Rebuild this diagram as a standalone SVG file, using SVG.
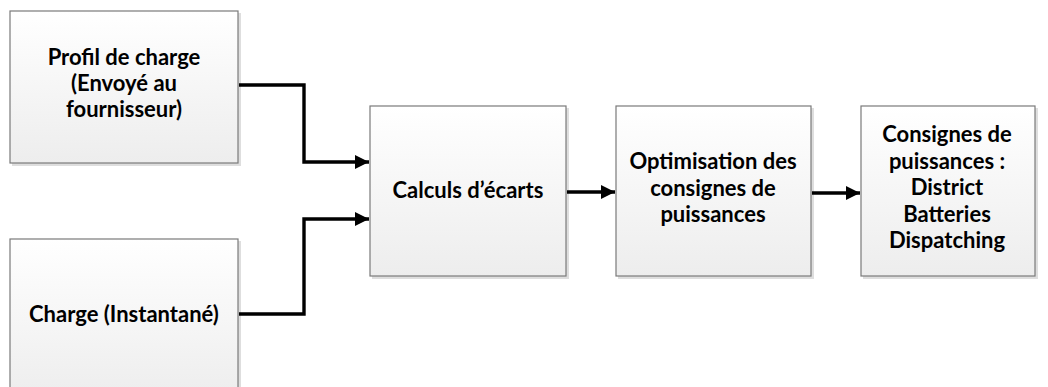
<svg xmlns="http://www.w3.org/2000/svg" width="1048" height="387" viewBox="0 0 1048 387">
<defs>
<linearGradient id="g" x1="0" y1="0" x2="0" y2="1">
<stop offset="0" stop-color="#ffffff"/>
<stop offset="1" stop-color="#ededed"/>
</linearGradient>
<marker id="ah" viewBox="0 0 10 10" refX="10" refY="5" markerWidth="4.2" markerHeight="4.2" markerUnits="strokeWidth" orient="auto">
<path d="M0,0 L10,5 L0,10 z" fill="#000"/>
</marker>
</defs>
<style>
.box{fill:url(#g);stroke:#7a7a7a;stroke-width:1.2}
.sh{fill:#c8c8c8;opacity:0.6}
.t{font-family:Lato,"Open Sans","Liberation Sans",sans-serif;font-weight:bold;font-size:22px;fill:#000;text-anchor:middle}
.c{fill:none;stroke:#000;stroke-width:3.4;stroke-linejoin:miter}
</style>
<g id="n1">
<rect class="sh" x="12" y="13" width="229" height="153"/>
<rect class="box" x="10" y="11" width="228" height="152"/>
<text class="t" x="124" y="65">Profil de charge</text>
<text class="t" x="124" y="91">(Envoyé au</text>
<text class="t" x="124" y="117">fournisseur)</text>
</g>
<g id="n2">
<rect class="sh" x="12" y="241" width="229" height="160"/>
<rect class="box" x="10" y="239" width="228" height="160"/>
<text class="t" x="124" y="322">Charge (Instantané)</text>
</g>
<g id="n3">
<rect class="sh" x="372" y="108" width="197" height="171"/>
<rect class="box" x="370" y="106" width="196" height="170"/>
<text class="t" x="468" y="198">Calculs d’écarts</text>
</g>
<g id="n4">
<rect class="sh" x="618" y="108" width="196" height="171"/>
<rect class="box" x="616" y="106" width="195" height="170"/>
<text class="t" x="713" y="169">Optimisation des</text>
<text class="t" x="713" y="196">consignes de</text>
<text class="t" x="713" y="222">puissances</text>
</g>
<g id="n5">
<rect class="sh" x="863" y="108" width="175" height="171"/>
<rect class="box" x="861" y="106" width="174" height="170"/>
<text class="t" x="947" y="142">Consignes de</text>
<text class="t" x="947" y="168.5">puissances :</text>
<text class="t" x="947" y="195">District</text>
<text class="t" x="947" y="221.5">Batteries</text>
<text class="t" x="947" y="248">Dispatching</text>
</g>
<g id="connectors">
<path class="c" d="M239,85 H304 V162 H369" marker-end="url(#ah)"/>
<path class="c" d="M239,314 H304 V219 H369" marker-end="url(#ah)"/>
<path class="c" d="M567,192 H615" marker-end="url(#ah)"/>
<path class="c" d="M812,193 H860" marker-end="url(#ah)"/>
</g>
</svg>
